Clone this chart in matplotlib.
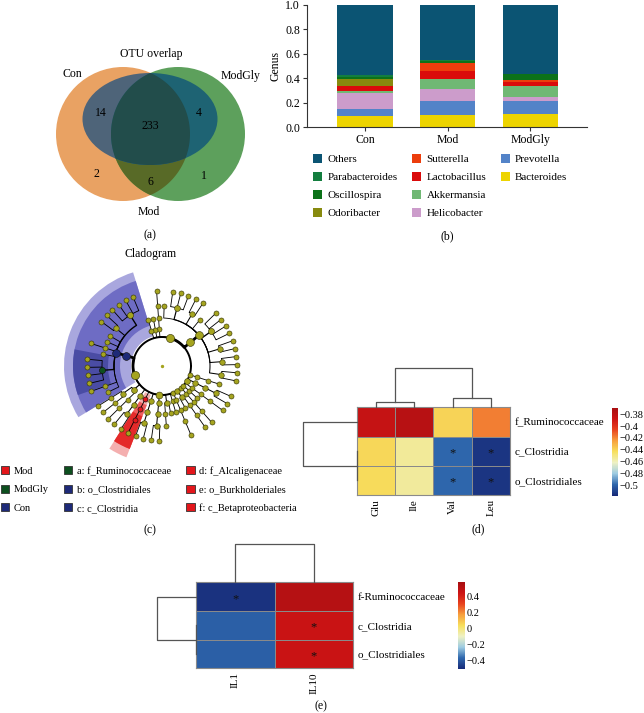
import numpy as np
import matplotlib
matplotlib.use("Agg")
import matplotlib.pyplot as plt
from matplotlib.patches import Circle, Ellipse, Polygon, Wedge, Patch
from matplotlib.colors import LinearSegmentedColormap

plt.rcParams["font.family"] = ["Liberation Serif", "DejaVu Serif"]
plt.rcParams["font.size"] = 8

W, H = 644, 713

# ---- (a) OTU overlap (Con = orange, ModGly = green, Mod = ellipse)
venn_names = ["Con", "ModGly", "Mod"]
venn_region = ["Con", "Con&Mod", "all", "ModGly&Mod", "Con&ModGly", "ModGly"]
venn_count = [2, 14, 233, 4, 6, 1]

# ---- (b) genus composition
groups = ["Con", "Mod", "ModGly"]
bacteroides = [0.093, 0.095, 0.104]
prevotella = [0.051, 0.115, 0.106]
helicobacter = [0.131, 0.098, 0.033]
akkermansia = [0.019, 0.082, 0.092]
lactobacillus = [0.039, 0.065, 0.033]
sutterella = [0.005, 0.068, 0.016]
odoribacter = [0.057, 0.003, 0.004]
oscillospira = [0.016, 0.017, 0.045]
parabacteroides = [0.014, 0.005, 0.004]
others = [0.575, 0.452, 0.563]

# ---- (c) LEfSe cladogram taxonomy (phylum > class > order > family > genus)
tree = {
    "Proteobacteria": {
        "Betaproteobacteria": {"Burkholderiales": {"Alcaligenaceae": ["Sutterella"]}},
        "Deltaproteobacteria": {"Desulfovibrionales": {"Desulfovibrionaceae": ["Bilophila", "Desulfovibrio"]}},
        "Epsilonproteobacteria": {"Campylobacterales": {"Helicobacteraceae": ["Helicobacter", "Flexispira"]}},
        "Gammaproteobacteria": {"Enterobacteriales": {"Enterobacteriaceae": []}, "Pasteurellales": {}},
        "Alphaproteobacteria": {"RF32": {}},
    },
    "Deferribacteres": {"Deferribacteres_c": {"Deferribacterales": {"Deferribacteraceae": ["Mucispirillum"]}}},
    "Tenericutes": {"Mollicutes": {"RF39": {}, "Anaeroplasmatales": {"Anaeroplasmataceae": ["Anaeroplasma"]}}},
    "Verrucomicrobia": {"Verrucomicrobiae": {"Verrucomicrobiales": {"Verrucomicrobiaceae": ["Akkermansia"]}}},
    "Cyanobacteria": {"4C0d-2": {"YS2": {}}},
    "Actinobacteria": {
        "Actinobacteria_c": {"Bifidobacteriales": {"Bifidobacteriaceae": ["Bifidobacterium"]}},
        "Coriobacteriia": {"Coriobacteriales": {"Coriobacteriaceae": ["Adlercreutzia", "Enterorhabdus"]}},
    },
    "TM7": {"TM7-3": {"CW040": {"F16": []}}},
    "Bacteroidetes": {
        "Bacteroidia": {"Bacteroidales": {
            "Bacteroidaceae": ["Bacteroides", "BF311"],
            "Porphyromonadaceae": ["Parabacteroides", "Butyricimonas"],
            "Prevotellaceae": ["Prevotella", "Paraprevotella"],
            "Rikenellaceae": ["AF12", "Rikenella", "Alistipes", "Rikenellaceae_g"],
            "S24-7": [],
            "Odoribacteraceae": ["Odoribacter", "Odoribacteraceae_g"],
            "Paraprevotellaceae": ["Prevotella_p", "YRC22", "CF231"],
            "Barnesiellaceae": [],
        }},
        "Flavobacteriia": {"Flavobacteriales": {"Flavobacteriaceae": ["Flavobacterium"]}},
        "Sphingobacteriia": {"Sphingobacteriales": {}},
        "Cytophagia": {"Cytophagales": {}},
    },
    "Firmicutes": {
        "Clostridia": {"Clostridiales": {
            "Lachnospiraceae": ["Blautia", "Coprococcus", "Dorea", "Roseburia"],
            "Clostridiaceae": ["Clostridium", "SMB53"],
            "Peptostreptococcaceae": [],
            "Christensenellaceae": [],
            "Dehalobacteriaceae": ["Dehalobacterium"],
            "Mogibacteriaceae": [],
            "Ruminococcaceae": ["Oscillospira", "Ruminococcus", "Anaerotruncus", "Faecalibacterium"],
            "Peptococcaceae": ["rc4-4"],
            "Veillonellaceae": [],
        }},
        "Bacilli": {
            "Lactobacillales": {"Lactobacillaceae": ["Lactobacillus"], "Streptococcaceae": ["Lactococcus"]},
            "Turicibacterales": {"Turicibacteraceae": ["Turicibacter"]},
        },
        "Erysipelotrichi": {"Erysipelotrichales": {"Erysipelotrichaceae": ["Allobaculum", "Coprobacillus"]}},
    },
}
biomarker_group = {"Alcaligenaceae": "Mod", "Burkholderiales": "Mod", "Betaproteobacteria": "Mod",
                   "Ruminococcaceae": "ModGly", "Clostridiales": "Con", "Clostridia": "Con"}
biomarker_label = ["a: f_Ruminococcaceae", "b: o_Clostridiales", "c: c_Clostridia",
                   "d: f_Alcaligenaceae", "e: o_Burkholderiales", "f: c_Betaproteobacteria"]

# ---- (d) correlation with amino acids
amino = ["Glu", "Ile", "Val", "Leu"]
taxa_d = ["f_Ruminococcaceae", "c_Clostridia", "o_Clostridiales"]
corr_d = [[-0.384, -0.377, -0.440, -0.418],
          [-0.441, -0.454, -0.499, -0.514],
          [-0.442, -0.455, -0.499, -0.514]]
sig_d = [[0, 0, 0, 0], [0, 0, 1, 1], [0, 0, 1, 1]]
col_link_d = [[0, 1, 0.14], [2, 3, 0.23], [4, 5, 1.0]]
row_link_d = [[1, 2, 0.0], [0, 3, 1.0]]

# ---- (e) correlation with cytokines
cyto = ["IL1", "IL10"]
taxa_e = ["f-Ruminococcaceae", "c_Clostridia", "o_Clostridiales"]
corr_e = [[-0.48, 0.53], [-0.38, 0.46], [-0.38, 0.46]]
sig_e = [[1, 0], [0, 1], [0, 1]]
col_link_e = [[0, 1, 1.0]]
row_link_e = [[1, 2, 0.0], [0, 3, 1.0]]


def frac(x0, y0, x1, y1):
    return [x0 / W, 1 - y1 / H, (x1 - x0) / W, (y1 - y0) / H]


fig = plt.figure(figsize=(W / 100, H / 100), dpi=100)
ov = fig.add_axes([0, 0, 1, 1])
ov.set_xlim(0, W)
ov.set_ylim(H, 0)
ov.axis("off")
for txt, x, y in [("(a)", 150, 235), ("(b)", 447, 236), ("(c)", 150, 530),
                  ("(d)", 478, 529), ("(e)", 321, 706), ("OTU overlap", 151, 54),
                  ("Cladogram", 151, 254)]:
    ov.text(x, y, txt, ha="center", va="center", fontsize=8.5)

# ================= (a) Venn
va = fig.add_axes(frac(40, 40, 280, 230))
va.set_xlim(40, 280)
va.set_ylim(230, 40)
va.axis("off")
rad = 67
oc, gc = (123, 134), (178, 134)
ell = dict(xy=(150, 119), width=135, height=92, ec="none")
p_or = va.add_patch(Circle(oc, rad, fc="#E9A263", ec="none"))
p_gr = va.add_patch(Circle(gc, rad, fc="#5DA05C", ec="none"))
half = np.degrees(np.arccos((gc[0] - oc[0]) / 2 / rad))


def arc_pts(c, r, a0, a1, n=120):
    t = np.radians(np.linspace(a0, a1, n))
    return np.column_stack([c[0] + r * np.cos(t), c[1] + r * np.sin(t)])


lens = np.vstack([arc_pts(oc, rad, -half, half), arc_pts(gc, rad, 180 - half, 180 + half)])
p_lens = va.add_patch(Polygon(lens, closed=True, fc="#586A27", ec="none"))
for clip, col in [(p_or, "#4E6479"), (p_gr, "#1E6373"), (p_lens, "#224D4B")]:
    e = va.add_patch(Ellipse(fc=col, **ell))
    e.set_clip_path(clip)
venn_pos = {"Con": (96, 174), "Con&Mod": (101, 113), "all": (150, 126),
            "ModGly&Mod": (199, 113), "Con&ModGly": (150, 182), "ModGly": (204, 176)}
for reg, cnt in zip(venn_region, venn_count):
    va.text(*venn_pos[reg], str(cnt), ha="center", va="center", fontsize=8.5)
for name, pos in zip(venn_names, [(72, 74), (241, 76), (149, 212)]):
    va.text(*pos, name, ha="center", va="center", fontsize=8.5, clip_on=False)

# ================= (b) stacked bars
series = [("Bacteroides", bacteroides, "#EDD400"), ("Prevotella", prevotella, "#5383C8"),
          ("Helicobacter", helicobacter, "#CC9CCB"), ("Akkermansia", akkermansia, "#70B874"),
          ("Lactobacillus", lactobacillus, "#DA0B0B"), ("Sutterella", sutterella, "#EC3D0C"),
          ("Odoribacter", odoribacter, "#878A0E"), ("Oscillospira", oscillospira, "#0C7219"),
          ("Parabacteroides", parabacteroides, "#137E3F"), ("Others", others, "#0B5473")]
axb = fig.add_axes(frac(307, 4.7, 587, 127))
xb = np.arange(len(groups))
base = np.zeros(len(groups))
handle = {}
for name, vals, col in series:
    bars = axb.bar(xb, vals, 0.667, bottom=base, color=col, ec="none")
    handle[name] = bars[0]
    base += np.array(vals)
axb.set_xlim(-0.703, 2.69)
axb.set_ylim(0, 1)
axb.set_xticks(xb, groups)
axb.set_yticks(np.arange(0, 1.01, 0.2), [f"{v:.1f}" for v in np.arange(0, 1.01, 0.2)])
axb.set_ylabel("Genus", labelpad=3, fontsize=8.5)
for s in ["top", "right"]:
    axb.spines[s].set_visible(False)
for s in ["left", "bottom"]:
    axb.spines[s].set_color("#333333")
    axb.spines[s].set_linewidth(0.8)
axb.tick_params(length=3, width=0.8, color="#333333", labelsize=8.5, pad=2)
order = ["Others", "Parabacteroides", "Oscillospira", "Odoribacter",
         "Sutterella", "Lactobacillus", "Akkermansia", "Helicobacter",
         "Prevotella", "Bacteroides", None, None]
hs = [handle[n] if n else Patch(fc="none", ec="none") for n in order]
ls = [n if n else "" for n in order]
fig.legend(hs, ls, ncol=3, loc="upper left", bbox_to_anchor=(313 / W, 1 - 154 / H),
           frameon=False, handlelength=0.85, handleheight=0.85, handletextpad=0.45,
           columnspacing=1.3, labelspacing=0.7, borderpad=0, borderaxespad=0, fontsize=8)

# ================= (c) cladogram
group_color = {"Mod": "#E3161B", "ModGly": "#0D4F1F", "Con": "#1E2A78"}
shade = {"Con": ["#A9A7DE", "#6E6CC4", "#4E4FA6"], "ModGly": ["#A9A7DE", "#6E6CC4", "#4A4CA4"],
         "Mod": ["#F4AFAF", "#EE5D5D", "#E42A2A"]}
radii = [29, 37, 48, 60, 75]


def count(sub):
    if not sub:
        return 1
    if isinstance(sub, dict):
        return sum(count(v) for v in sub.values())
    return len(sub)


n_leaf = sum(count(v) for v in tree.values())
step = 360.0 / n_leaf
start = 240.0
nodes, edges, slot = [], [], [0]


def place(name, sub, level):
    kids = list(sub.items()) if isinstance(sub, dict) else [(g, None) for g in (sub or [])]
    if not kids:
        ang = start + (slot[0] + 0.5) * step
        slot[0] += 1
        nodes.append((name, level, ang, 1, ang, ang))
        return ang, 1, ang, ang
    res = [place(k, v, level + 1) for k, v in kids]
    lo, hi = min(r[2] for r in res), max(r[3] for r in res)
    n = sum(r[1] for r in res)
    ang = 0.5 * (res[0][0] + res[-1][0])
    for r in res:
        edges.append((level, ang, level + 1, r[0], r[1]))
    nodes.append((name, level, ang, n, lo, hi))
    return ang, n, lo, hi


for ph, sub in tree.items():
    place(ph, sub, 0)

axc = fig.add_axes(frac(52, 262, 272, 470))
axc.set_xlim(-110, 110)
axc.set_ylim(-104, 104)
axc.axis("off")
pad = step / 2 + 2.5
for name, level, ang, n, lo, hi in nodes:
    if name in biomarker_group:
        cols = shade[biomarker_group[name]]
        k = level - 1
        outer = 98 if k == 0 else 89
        axc.add_patch(Wedge((0, 0), outer, lo - pad, hi + pad, width=outer - (radii[level] - 6),
                            fc=cols[k], ec="none", zorder=k))
t = np.linspace(0, 2 * np.pi, 300)
axc.plot(radii[0] * np.cos(t), radii[0] * np.sin(t), color="black", lw=1.4, zorder=5)
for lp, ap, lc, ac, nc in edges:
    rp, rc = radii[lp], radii[lc]
    th = np.radians(np.linspace(ap, ac, 30))
    xs = np.concatenate([rp * np.cos(th), [rc * np.cos(th[-1])]])
    ys = np.concatenate([rp * np.sin(th), [rc * np.sin(th[-1])]])
    axc.plot(xs, ys, color="black", lw=min(0.5 + 0.12 * nc, 2.0), zorder=5, solid_capstyle="round")
for name, level, ang, n, lo, hi in nodes:
    r = radii[level]
    fc = group_color.get(biomarker_group.get(name), "#A5A41F")
    axc.scatter(r * np.cos(np.radians(ang)), r * np.sin(np.radians(ang)),
                s=min(7 + 6 * np.sqrt(n), 36), fc=fc, ec="#3C3C08" if fc == "#A5A41F" else "#111111",
                lw=0.45, zorder=6)
axc.scatter([0], [0], s=2, c="#A5A41F", zorder=6)

leg_h = [Patch(fc=group_color[g], ec="#333333", lw=0.6) for g in ["Mod", "ModGly", "Con"]]
leg_h += [Patch(fc=group_color[c], ec="#333333", lw=0.6) for c in ["ModGly", "Con", "Con", "Mod", "Mod", "Mod"]]
fig.legend(leg_h, ["Mod", "ModGly", "Con"] + biomarker_label, ncol=3, loc="upper left",
           bbox_to_anchor=(0.5 / W, 1 - 466 / H), frameon=False, handlelength=0.85,
           handleheight=0.85, handletextpad=0.45, columnspacing=1.4, labelspacing=0.84,
           borderpad=0, borderaxespad=0, fontsize=7.5)

# ================= (d), (e) heatmaps
cmap = LinearSegmentedColormap.from_list(
    "rb", ["#172A78", "#2E66AC", "#9DCBE2", "#EEF1C4", "#F7E05E", "#F7A03E", "#E8441F", "#CD1414", "#A80F12"])


def dendro(ax, links, n, horizontal=False):
    pos = {i: i + 0.5 for i in range(n)}
    hgt = {i: 0.0 for i in range(n)}
    for k, (a, b, h) in enumerate(links):
        xs = [pos[a], pos[a], pos[b], pos[b]]
        ys = [hgt[a], h, h, hgt[b]]
        if horizontal:
            ax.plot(ys, xs, color="#555555", lw=0.9, clip_on=False)
        else:
            ax.plot(xs, ys, color="#555555", lw=0.9, clip_on=False)
        pos[n + k] = 0.5 * (pos[a] + pos[b])
        hgt[n + k] = h
    if horizontal:
        ax.set_xlim(1, 0)
        ax.set_ylim(n, 0)
    else:
        ax.set_xlim(0, n)
        ax.set_ylim(0, 1)
    ax.axis("off")


def heat(box, vals, sig, cols, rows, vmin, vmax, cbox, ticks):
    ax = fig.add_axes(frac(*box))
    m = ax.pcolormesh(np.array(vals), cmap=cmap, vmin=vmin, vmax=vmax,
                      edgecolors="#8a8a8a", linewidth=0.6)
    ax.set_xlim(0, len(cols))
    ax.set_ylim(len(rows), 0)
    for i, row in enumerate(sig):
        for j, s in enumerate(row):
            if s:
                ax.text(j + 0.5, i + 0.58, "*", ha="center", va="center", fontsize=9, color="#111111")
    ax.set_xticks(np.arange(len(cols)) + 0.5, cols, rotation=90)
    ax.set_yticks(np.arange(len(rows)) + 0.5, rows)
    ax.yaxis.tick_right()
    ax.tick_params(length=0, labelsize=8, pad=3)
    for s in ax.spines.values():
        s.set_color("#8a8a8a")
        s.set_linewidth(0.8)
    cax = fig.add_axes(frac(*cbox))
    cb = fig.colorbar(m, cax=cax)
    cb.outline.set_visible(False)
    cb.set_ticks(ticks, labels=[("\u2212" if v < 0 else "") + f"{abs(v):g}" for v in ticks])
    cax.tick_params(length=0, labelsize=7.5, pad=1.2)
    return ax


heat((356.7, 407.3, 510, 495), corr_d, sig_d, amino, taxa_d, -0.518, -0.369,
     (612, 407.7, 618, 495.7), [-0.38, -0.4, -0.42, -0.44, -0.46, -0.48, -0.5])
dendro(fig.add_axes(frac(356.7, 368, 510, 407.3)), col_link_d, len(amino))
dendro(fig.add_axes(frac(303, 407.3, 356.7, 495)), row_link_d, len(taxa_d), horizontal=True)

heat((195.7, 582.3, 353.3, 668.3), corr_e, sig_e, cyto, taxa_e, -0.5, 0.58,
     (458.3, 582.3, 465, 669), [0.4, 0.2, 0, -0.2, -0.4])
dendro(fig.add_axes(frac(195.7, 544, 353.3, 582.3)), col_link_e, len(cyto))
dendro(fig.add_axes(frac(157.3, 582.3, 195.7, 668.3)), row_link_e, len(taxa_e), horizontal=True)

fig.savefig("out.png", dpi=100)
